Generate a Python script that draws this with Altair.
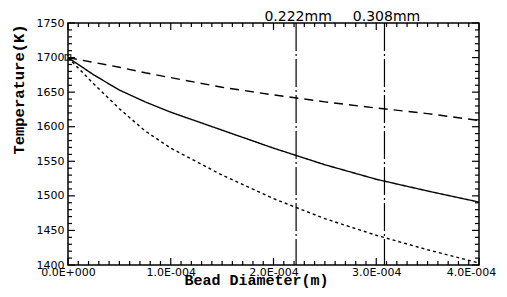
import altair as alt
import pandas as pd

# ---- data ----
diam_e4 = [0.0, 0.25, 0.5, 0.75, 1.0, 1.5, 2.0, 2.5, 3.0, 3.5, 4.0]
temp_solid = [1700, 1675, 1653, 1636, 1621, 1595, 1569, 1545, 1524, 1507, 1491]
temp_short = [1700, 1662, 1626, 1594, 1569, 1530, 1496, 1467, 1443, 1422, 1403]
temp_long = [1700, 1693, 1686, 1678, 1671, 1657, 1646, 1636, 1627, 1619, 1609]

marker_lines = [0.000222, 0.000308]
marker_labels = ["0.222mm", "0.308mm"]

x_tick_vals = [0.0, 0.0001, 0.0002, 0.0003, 0.0004]
x_tick_labels = ["0.0E+000", "1.0E-004", "2.0E-004", "3.0E-004", "4.0E-004"]
y_tick_vals = [1400, 1450, 1500, 1550, 1600, 1650, 1700, 1750]

X0, X1 = 0.0, 0.0004
Y0, Y1 = 1400, 1750
W, H = 411, 242

rows = []
for name, vals in [("solid", temp_solid), ("short", temp_short), ("long", temp_long)]:
    for d, t in zip(diam_e4, vals):
        rows.append({"d": d * 1e-4, "T": t, "series": name})
df = pd.DataFrame(rows)

xscale = alt.Scale(domain=[X0, X1], nice=False, zero=False)
yscale = alt.Scale(domain=[Y0, Y1], nice=False, zero=False)

# label expression built from the tick lists
expr = "''"
for v, lab in reversed(list(zip(x_tick_vals, x_tick_labels))):
    expr = f"abs(datum.value - {v}) < 1e-6 ? '{lab}' : ({expr})"

xaxis = alt.Axis(values=x_tick_vals, labelExpr=expr, ticks=False, domain=False,
                 grid=False, labelFont="DejaVu Sans", labelFontSize=11,
                 labelColor="black", labelPadding=1, labelFlush=False,
                 labelOverlap=False,
                 labelOffset=alt.ConditionalAxisNumber(
                     condition={"test": "datum.value > 0.00039", "value": -8}, value=0),
                 title="Bead Diameter(m)", titleFont="Liberation Mono",
                 titleFontSize=15, titleFontWeight="bold", titleColor="black",
                 titleX=188, titleY=19, titleBaseline="alphabetic")
yaxis = alt.Axis(values=y_tick_vals, ticks=False, domain=False, grid=False,
                 labelFont="DejaVu Sans", labelFontSize=11, labelColor="black",
                 labelPadding=4, labelFlush=False, labelOverlap=False, format="d",
                 title="Temperature(K)", titleFont="Liberation Mono",
                 titleFontSize=15.5, titleFontWeight="bold", titleColor="black",
                 titleAngle=270, titleX=-45, titleY=66,
                 titleBaseline="alphabetic", titleAlign="center")

X = lambda f: alt.X(f, scale=xscale, axis=xaxis)
Y = lambda f: alt.Y(f, scale=yscale, axis=yaxis)

lines = alt.Chart(df).mark_line(color="black", strokeWidth=1.4).encode(
    x=X("d:Q"),
    y=Y("T:Q"),
    detail="series:N",
    strokeDash=alt.StrokeDash("series:N",
                              scale=alt.Scale(domain=["solid", "short", "long"],
                                              range=[[1, 0], [3, 3], [9, 6]]),
                              legend=None),
)

start = alt.Chart(pd.DataFrame({"d": [0.0], "T": [temp_solid[0]]})).mark_point(
    shape="square", filled=False, color="black", size=30, strokeWidth=1.5
).encode(x=X("d:Q"), y=Y("T:Q"))

mdf = pd.DataFrame({"d": marker_lines, "label": marker_labels})
vrules = alt.Chart(mdf).mark_rule(color="black", strokeWidth=1.2,
                                   strokeDash=[28, 3, 2, 3]).encode(
    x=X("d:Q"), y=alt.value(0), y2=alt.value(H))
vtext = alt.Chart(mdf).mark_text(font="DejaVu Sans", fontSize=14, color="black",
                                  baseline="alphabetic", dx=2).encode(
    x=X("d:Q"), y=alt.value(-2), text="label:N")

# inward tick marks (major + minor) on all four sides, lengths in pixels
x_minor = [i * 1e-5 for i in range(41) if i % 10 != 0]
y_minor = [1400 + 10 * i for i in range(36) if i % 5 != 0]
px_y = (Y1 - Y0) / H   # data units per pixel
px_x = (X1 - X0) / W

xt_rows = []
for v in x_tick_vals + x_minor:
    L = 7 if v in x_tick_vals else 4
    xt_rows.append({"d": v, "a": Y0, "b": Y0 + L * px_y})
    xt_rows.append({"d": v, "a": Y1, "b": Y1 - L * px_y})
yt_rows = []
for v in y_tick_vals + y_minor:
    L = 7 if v in y_tick_vals else 4
    yt_rows.append({"T": v, "a": X0, "b": X0 + L * px_x})
    yt_rows.append({"T": v, "a": X1, "b": X1 - L * px_x})

xticks = alt.Chart(pd.DataFrame(xt_rows)).mark_rule(color="black", strokeWidth=1.2).encode(
    x=X("d:Q"), y=Y("a:Q"), y2="b:Q")
yticks = alt.Chart(pd.DataFrame(yt_rows)).mark_rule(color="black", strokeWidth=1.2).encode(
    y=Y("T:Q"), x=X("a:Q"), x2="b:Q")

chart = alt.layer(
    lines, vrules, start, vtext, xticks, yticks,
).properties(
    width=W, height=H,
    autosize=alt.AutoSizeParams(type="none"),
    padding={"left": 60, "top": 15, "right": 20, "bottom": 24},
    background="white",
).configure_view(stroke="black", strokeWidth=1.5)

chart.save("out.html", embed_options={"renderer": "svg", "actions": False})
